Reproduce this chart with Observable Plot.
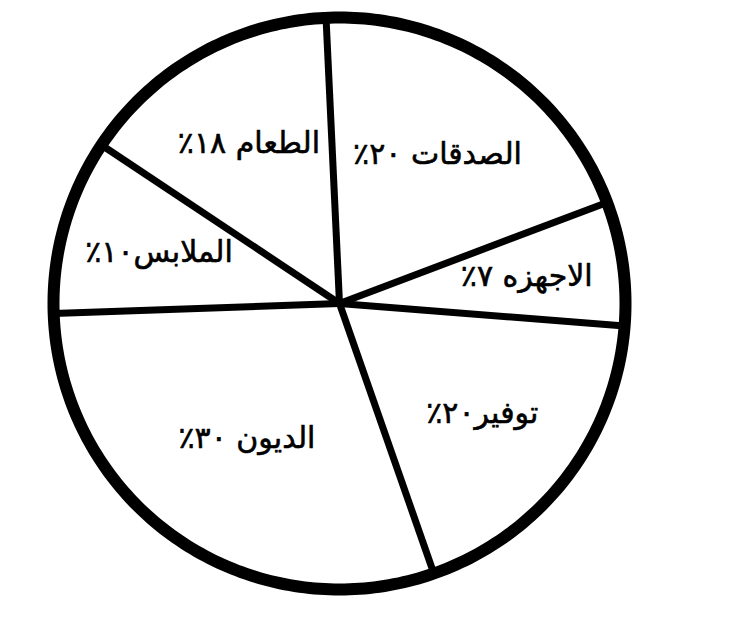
<!DOCTYPE html>
<html><head><meta charset="utf-8">
<script src="https://cdn.jsdelivr.net/npm/d3@7"></script>
<script src="https://cdn.jsdelivr.net/npm/@observablehq/plot@0.6"></script>
<style>body{margin:0;background:#fff}</style>
</head><body><div id="chart"></div>
<script>
// Slice labels as printed in the chart
const labels = ["الصدقات ٢٠٪", "الاجهزه ٧٪", "توفير٢٠٪", "الديون ٣٠٪", "الملابس١٠٪", "الطعام ١٨٪"];
// Slice sizes as drawn (share of the full circle, %)
const shares = [20, 7, 18.4, 29.8, 9.9, 14.9];
// Angle of the first slice edge (degrees clockwise from 12 o'clock)
const startDeg = -2.7;

const start = startDeg * Math.PI / 180;
const arcs = d3.pie().sort(null).value(d => d).startAngle(start).endAngle(start + 2 * Math.PI)(shares);
const rim = d3.range(0, 361, 1).map(a => ({a: a * Math.PI / 180}));
// label at the area centroid of each sector
const centroidR = d => {
  const t = d.endAngle - d.startAngle;
  return 4 * Math.sin(t / 2) / (3 * t);
};
const mid = d => (d.startAngle + d.endAngle) / 2;

const chart = Plot.plot({
  width: 732,
  height: 623,
  marginLeft: 53,
  marginRight: 107,
  marginTop: 17,
  marginBottom: 34,
  x: {domain: [-1, 1], axis: null},
  y: {domain: [-1, 1], axis: null},
  style: {direction: "rtl", fontFamily: "'DejaVu Sans', sans-serif", background: "#fff"},
  marks: [
    Plot.link(arcs, {
      x1: () => 0, y1: () => 0,
      x2: d => Math.sin(d.startAngle), y2: d => Math.cos(d.startAngle),
      stroke: "black", strokeWidth: 7
    }),
    Plot.line(rim, {x: d => Math.sin(d.a), y: d => Math.cos(d.a), stroke: "black", strokeWidth: 12}),
    Plot.text(arcs, {
      x: d => centroidR(d) * Math.sin(mid(d)),
      y: d => centroidR(d) * Math.cos(mid(d)),
      text: (d, i) => labels[i],
      fontSize: 30,
      fill: "black",
      stroke: "black",
      strokeWidth: 0.6
    })
  ]
});
document.getElementById("chart").appendChild(chart);
</script>
</body></html>
